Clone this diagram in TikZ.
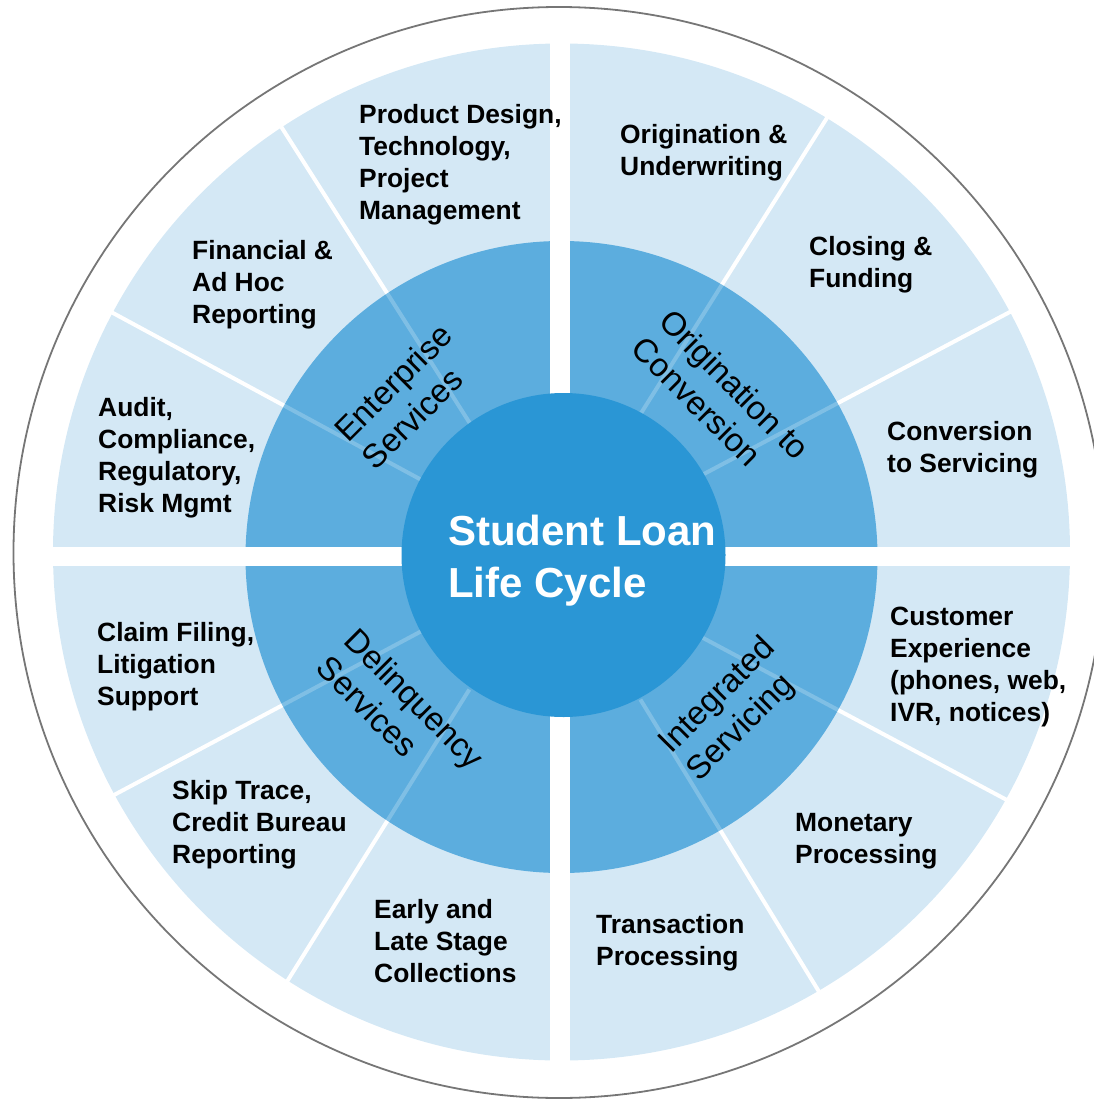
\documentclass[tikz,border=0pt]{standalone}
\usepackage{fontspec}
\setmainfont{Liberation Sans}
\usetikzlibrary{calc}
\definecolor{lightring}{RGB}{212,232,245}
\definecolor{midring}{RGB}{92,173,222}
\definecolor{core}{RGB}{42,150,213}
\definecolor{rim}{RGB}{118,118,118}
\begin{document}
\begin{tikzpicture}[x=1pt,y=-1pt,
  item/.style={font=\fontsize{26.4}{32}\selectfont\bfseries, align=left, anchor=west, inner sep=0pt, text=black},
  ringlabel/.style={font=\fontsize{33}{39}\selectfont, align=left, inner sep=0pt, text=black},
  spoke/.style={white, line width=4pt},
  faint/.style={white, opacity=0.22, line width=4pt}]
\useasboundingbox (0,0) rectangle (1093,1100);
% outer rim
\draw[rim, line width=1.8pt] (559,552.5) circle (545.5pt);
% light outer ring
\fill[lightring] (561.5,552) circle (508.5pt);
% spokes
\coordinate (s1o) at (282,128);  \coordinate (s1i) at (387,293);
\coordinate (s2o) at (113,313);  \coordinate (s2i) at (283,405);
\coordinate (s3o) at (825,121);  \coordinate (s3i) at (723,283);
\coordinate (s4o) at (1008,313); \coordinate (s4i) at (838,403);
\coordinate (s5o) at (1005,799); \coordinate (s5i) at (840,711);
\coordinate (s6o) at (818,990);  \coordinate (s6i) at (722,833);
\coordinate (s7o) at (288,980);  \coordinate (s7i) at (386,823);
\coordinate (s8o) at (114,795);  \coordinate (s8i) at (281,706);
\foreach \k in {1,...,8}{
  \draw[spoke] ($(s\k i)!1.08!(s\k o)$) -- ($(s\k o)!1.06!(s\k i)$);
}
% middle ring
\fill[midring] (561.5,557) circle (316pt);
\foreach \k in {1,...,8}{
  \draw[faint] (s\k i) -- ($(s\k o)!1.85!(s\k i)$);
}
% white cross separating the quadrants
\fill[white] (550,30) rectangle (570,1080);
\fill[white] (35,547) rectangle (1088,566);
% core
\fill[core] (563.5,555) circle (162pt);
\node[font=\fontsize{42}{52}\selectfont\bfseries, text=white, align=left, anchor=west, inner sep=0pt] (title) at (448,561) {Student Loan\\Life Cycle};
% ring labels
\node[ringlabel, rotate=45] (ent) at (407,396) {Enterprise\\Services};
\node[ringlabel, rotate=-45] (orig) at (721,398) {Origination to\\Conversion};
\node[ringlabel, rotate=-45] (del) at (401,712) {Delinquency\\Services};
\node[ringlabel, rotate=45] (integ) at (732,710) {Integrated\\Servicing};
% outer items
\node[item] (pd) at (359,164.5) {Product Design,\\Technology,\\Project\\Management};
\node[item] (ou) at (620,153) {Origination \&\\Underwriting};
\node[item] (cf) at (809,265) {Closing \&\\Funding};
\node[item] (cs) at (887,450) {Conversion\\to Servicing};
\node[item] (ce) at (890,667) {Customer\\Experience\\(phones, web,\\IVR, notices)};
\node[item] (mp) at (795,841) {Monetary\\Processing};
\node[item] (tp) at (596,943) {Transaction\\Processing};
\node[item] (el) at (374,941) {Early and\\Late Stage\\Collections};
\node[item] (st) at (172,825) {Skip Trace,\\Credit Bureau\\Reporting};
\node[item] (cl) at (97,667) {Claim Filing,\\Litigation\\Support};
\node[item] (au) at (98,458) {Audit,\\Compliance,\\Regulatory,\\Risk Mgmt};
\node[item] (fa) at (192,285) {Financial \&\\Ad Hoc\\Reporting};
\end{tikzpicture}
\end{document}
